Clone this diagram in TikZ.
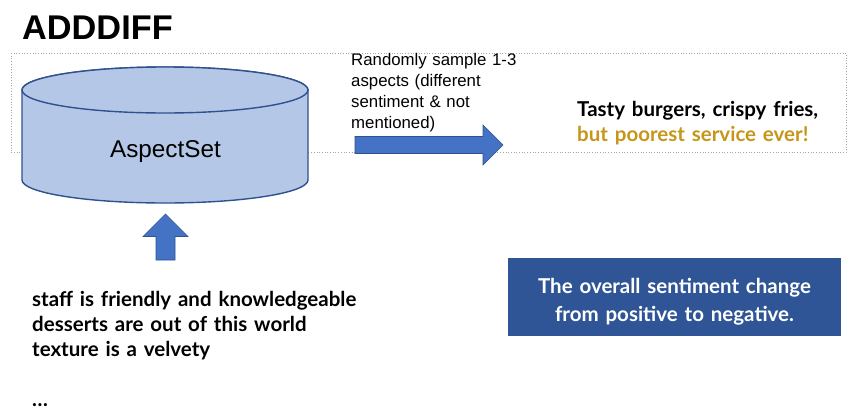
\documentclass[tikz,border=0pt]{standalone}
\usepackage{fontspec}
\setmainfont{Liberation Sans}
\newfontfamily\lato{Lato}
\definecolor{cylfill}{RGB}{180,199,231}
\definecolor{cylline}{RGB}{47,82,143}
\definecolor{arrfill}{RGB}{68,114,196}
\definecolor{boxblue}{RGB}{47,85,151}
\definecolor{gold}{RGB}{197,150,24}
\definecolor{dotgray}{RGB}{165,165,165}
\begin{document}
\begin{tikzpicture}[x=1pt,y=-1pt,
  cyl/.style={fill=cylfill,draw=cylline,line width=1.4pt},
  blockarrow/.style={fill=arrfill,draw=cylline,line width=0.6pt},
  frame/.style={draw=dotgray,dotted,line width=0.7pt},
  txt/.style={inner sep=0pt,anchor=base west,align=left}]
\useasboundingbox (0,0) rectangle (865,413);
% title
\node[txt,font=\fontsize{34.3}{38}\selectfont\bfseries] (title) at (22,39) {ADDDIFF};
% dotted frame
\draw[frame] (11,53) rectangle (846,152.5);
% cylinder
\draw[cyl] (22,90) -- (22,180) arc[start angle=180,end angle=360,x radius=143pt,y radius=23pt]
  -- (308,90) arc[start angle=0,end angle=180,x radius=143pt,y radius=23pt] -- cycle;
\draw[cyl] (165,90) ellipse[x radius=143pt,y radius=23pt];
\node[inner sep=0pt,anchor=base,font=\fontsize{24.3}{28}\selectfont] (aspectset) at (165.5,157) {AspectSet};
% right block arrow
\draw[blockarrow] (355,136.5) -- (483,136.5) -- (483,125) -- (503,145) -- (483,165) -- (483,153.5) -- (355,153.5) -- cycle;
% up block arrow
\draw[blockarrow] (156,260) -- (156,236.5) -- (143,236.5) -- (165.5,214) -- (188,236.5) -- (175,236.5) -- (175,260) -- cycle;
% sample text
\node[txt,text width=200pt,font=\fontsize{16.8}{21}\selectfont] (sample) at (351,65.5)
  {Randomly sample 1-3\\aspects (different\\sentiment \& not\\mentioned)};
% review
\node[txt,text width=280pt,font=\lato\bfseries\fontsize{20.5}{25.7}\selectfont] (review) at (577,116)
  {Tasty burgers, crispy fries,\\\textcolor{gold}{but poorest service ever!}};
% blue box
\fill[boxblue] (508,258) rectangle (841,336);
\node[inner sep=0pt,anchor=base,align=center,text width=330pt,text=white,font=\lato\bfseries\fontsize{20.5}{28.5}\selectfont] (change) at (674.5,293)
  {The overall sentiment change\\from positive to negative.};
% aspects list
\node[txt,text width=420pt,font=\lato\bfseries\fontsize{20.5}{25}\selectfont] (list) at (32,306)
  {staff is friendly and knowledgeable\\desserts are out of this world\\texture is a velvety\\[25pt]\dots};
\end{tikzpicture}
\end{document}
